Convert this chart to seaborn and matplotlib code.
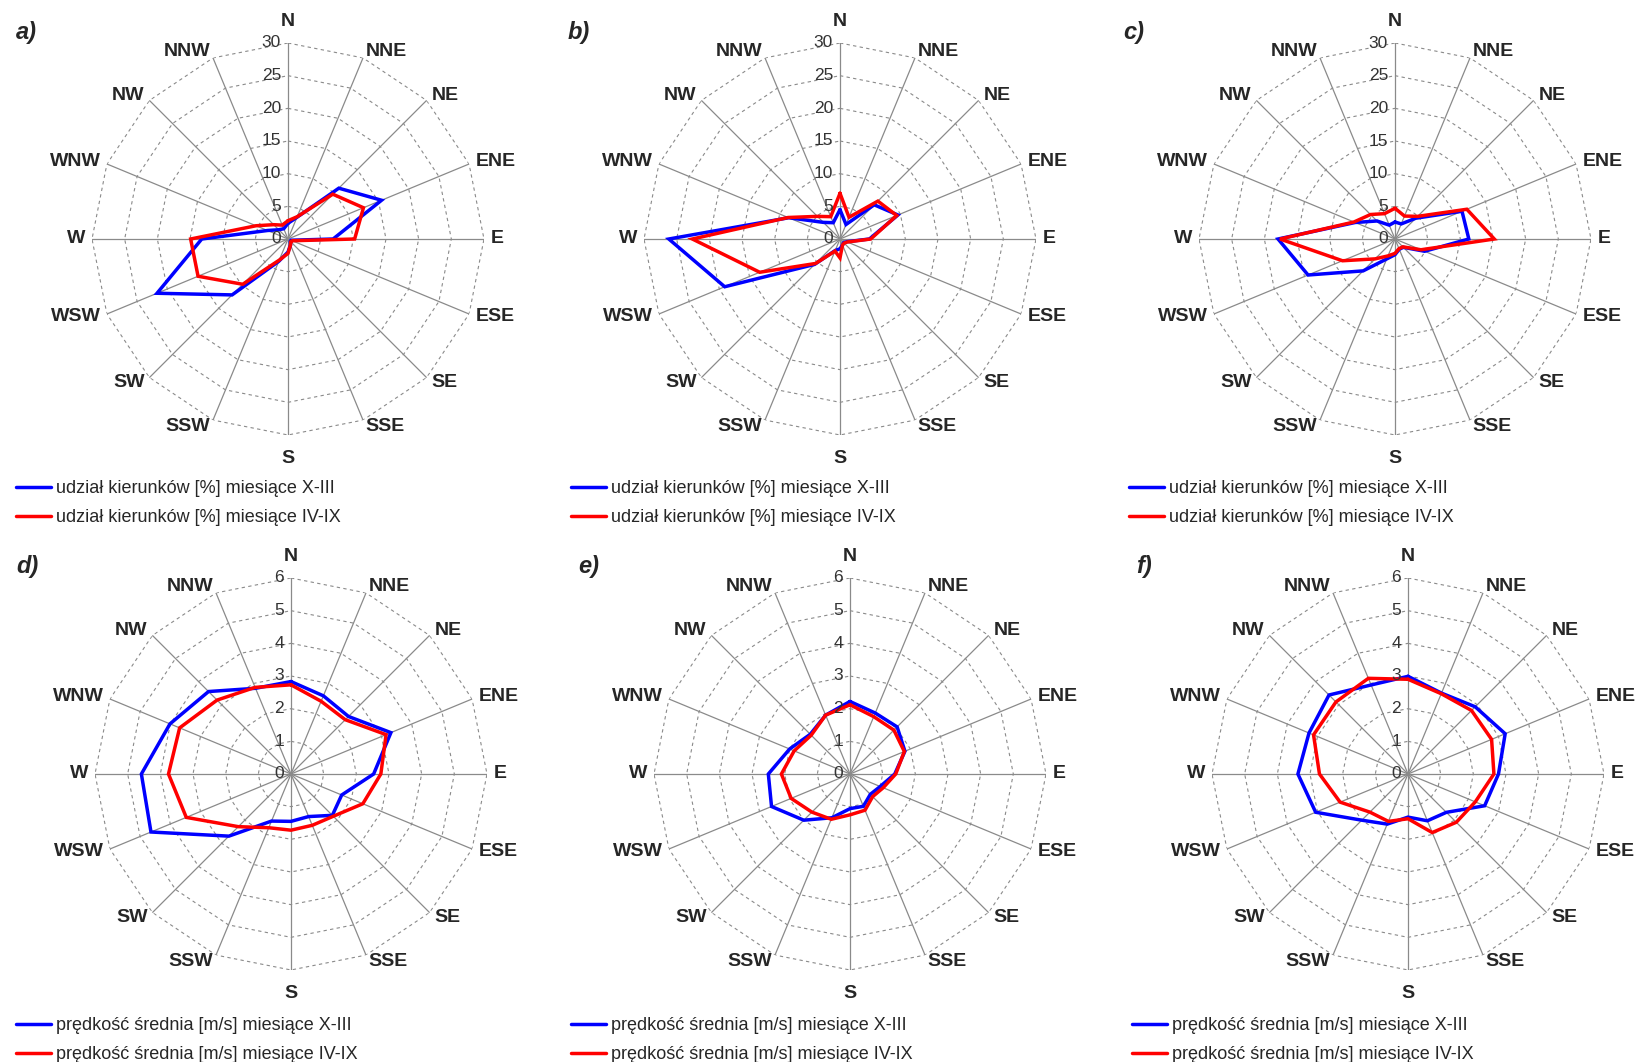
import numpy as np
import seaborn as sns
import matplotlib.pyplot as plt

directions = ['N', 'NNE', 'NE', 'ENE', 'E', 'ESE', 'SE', 'SSE',
              'S', 'SSW', 'SW', 'WSW', 'W', 'WNW', 'NW', 'NNW']

# udzial kierunkow [%]  (X-III = blue, IV-IX = red)
share_a_winter = [2.4, 3.6, 11.0, 15.5, 6.9, 0.5, 0.5, 1.0, 2.0, 3.7, 12.1, 21.7, 13.2, 3.4, 2.0, 1.7]
share_a_summer = [2.8, 3.7, 9.7, 12.5, 10.2, 0.7, 0.6, 1.0, 2.2, 3.5, 9.8, 14.9, 14.9, 5.3, 3.1, 2.3]
share_b_winter = [4.5, 2.4, 7.4, 9.6, 4.5, 1.1, 0.8, 1.0, 1.5, 1.9, 5.5, 19.1, 26.2, 8.5, 3.6, 2.7]
share_b_summer = [7.0, 3.6, 8.2, 9.4, 4.7, 1.2, 0.9, 1.0, 2.9, 2.0, 5.3, 13.3, 22.6, 8.6, 4.9, 3.7]
share_c_winter = [2.6, 2.5, 4.5, 11.1, 11.3, 4.9, 1.8, 1.7, 2.4, 3.3, 6.9, 14.4, 17.9, 6.6, 3.9, 2.3]
share_c_summer = [4.7, 3.8, 4.9, 11.9, 15.2, 4.3, 1.7, 1.6, 2.2, 2.8, 4.3, 8.7, 17.6, 6.8, 5.3, 4.2]

# predkosc srednia [m/s]
speed_d_winter = [2.83, 2.59, 2.49, 3.31, 2.53, 1.68, 1.79, 1.41, 1.45, 1.56, 2.69, 4.64, 4.58, 4.01, 3.57, 2.84]
speed_d_summer = [2.73, 2.41, 2.35, 3.15, 2.75, 2.38, 1.83, 1.70, 1.72, 1.78, 2.28, 3.47, 3.75, 3.69, 3.20, 2.87]
speed_e_winter = [2.22, 2.02, 2.04, 1.82, 1.37, 1.00, 0.88, 1.07, 1.06, 1.45, 2.00, 2.60, 2.50, 2.00, 1.72, 1.95]
speed_e_summer = [2.12, 1.90, 1.90, 1.80, 1.40, 1.10, 0.98, 1.20, 1.25, 1.50, 1.65, 1.95, 2.10, 1.85, 1.68, 1.95]
speed_f_winter = [2.99, 2.68, 2.91, 3.22, 2.77, 2.54, 1.66, 1.55, 1.32, 1.66, 2.00, 3.06, 3.37, 3.28, 3.42, 2.95]
speed_f_summer = [2.90, 2.66, 2.75, 2.77, 2.63, 2.23, 2.09, 1.94, 1.37, 1.57, 1.65, 2.25, 2.71, 3.13, 3.12, 3.17]

share_labels = ['udział kierunków [%] miesiące X-III', 'udział kierunków [%] miesiące IV-IX']
speed_labels = ['prędkość średnia [m/s] miesiące X-III', 'prędkość średnia [m/s] miesiące IV-IX']

sns.set_theme(style='white')
plt.rcParams['font.family'] = ['Liberation Sans', 'DejaVu Sans']

W, H = 1644, 1062
R = 196
fig = plt.figure(figsize=(W / 100, H / 100), dpi=100)
fig.patch.set_facecolor('white')

theta = np.arange(16) * 2 * np.pi / 16
theta_c = np.append(theta, theta[0] + 2 * np.pi)


def radar(cx, cy, letter, winter, summer, rmax, step, labels, legend_xy):
    ax = fig.add_axes([(cx - R) / W, 1 - (cy + R) / H, 2 * R / W, 2 * R / H], projection='polar')
    ax.set_theta_zero_location('N')
    ax.set_theta_direction(-1)
    ax.grid(False)
    ax.set_xticks([])
    ax.set_yticks([])
    ax.spines['polar'].set_visible(False)
    ax.patch.set_alpha(0)

    # polygon grid + spokes
    for r in np.arange(step, rmax + step / 2, step):
        ax.plot(theta_c, [r] * 17, color='#8a8a8a', lw=0.8, ls=(0, (3, 3)))
    for t in theta:
        ax.plot([t, t], [0, rmax], color='#8a8a8a', lw=0.9)

    sns.lineplot(x=theta_c, y=winter + winter[:1], ax=ax, color='#0000ff', lw=2.5,
                 sort=False, estimator=None)
    l1 = ax.lines[-1]
    sns.lineplot(x=theta_c, y=summer + summer[:1], ax=ax, color='#ff0000', lw=2.5,
                 sort=False, estimator=None)
    l2 = ax.lines[-1]
    for ln in (l1, l2):
        ln.set_solid_joinstyle('miter')
    ax.set_ylim(0, rmax)
    ax.set_xlabel('')
    ax.set_ylabel('')

    for v in np.arange(0, rmax + step / 2, step):
        ax.annotate(f'{v:g}', xy=(0, v), xytext=(-5, 0), textcoords='offset points',
                    ha='right', va='center', fontsize=12.5, color='#333333')

    for i, d in enumerate(directions):
        t = theta[i]
        if i == 0:
            ax.text(t, rmax * 1.11, d, ha='center', va='center', fontsize=14, fontweight='bold')
        elif i == 8:
            ax.text(t, rmax * 1.12, d, ha='center', va='center', fontsize=14, fontweight='bold')
        else:
            ax.text(t, rmax * 1.035, d, ha='left' if i < 8 else 'right', va='center',
                    fontsize=14, fontweight='bold')

    fig.text(16 / W if cx < 500 else (cx - 272) / W, 1 - (cy - 207) / H, letter,
             fontsize=17, fontweight='bold', fontstyle='italic', va='center')

    ax.legend(handles=[l1, l2], labels=labels, loc='upper left',
              bbox_to_anchor=(legend_xy[0] / W, 1 - legend_xy[1] / H),
              bbox_transform=fig.transFigure, frameon=False, fontsize=13,
              handlelength=1.95, handletextpad=0.25, labelspacing=0.68,
              borderpad=0, borderaxespad=0)


radar(288, 239, 'a)', share_a_winter, share_a_summer, 30, 5, share_labels, (16, 480))
radar(840, 239, 'b)', share_b_winter, share_b_summer, 30, 5, share_labels, (571, 480))
radar(1395, 239, 'c)', share_c_winter, share_c_summer, 30, 5, share_labels, (1129, 480))
radar(291, 774, 'd)', speed_d_winter, speed_d_summer, 6, 1, speed_labels, (16, 1017))
radar(850, 774, 'e)', speed_e_winter, speed_e_summer, 6, 1, speed_labels, (571, 1017))
radar(1408, 774, 'f)', speed_f_winter, speed_f_summer, 6, 1, speed_labels, (1132, 1017))

fig.savefig('out.png', dpi=100, facecolor='white')
